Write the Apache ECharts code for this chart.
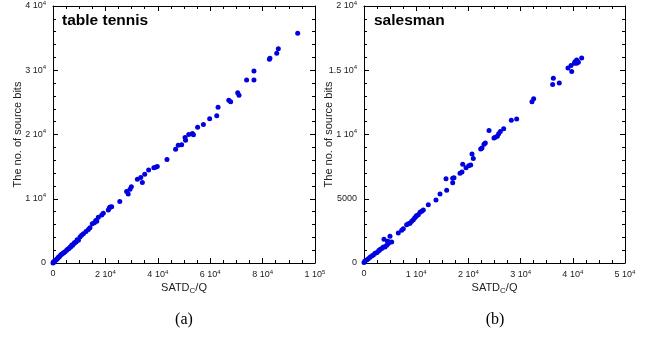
<!DOCTYPE html>
<html><head><meta charset="utf-8">
<script src="https://cdn.jsdelivr.net/npm/echarts@6/dist/echarts.min.js"></script>
<style>html,body{margin:0;padding:0;background:#fff}#c{width:647px;height:339px}</style>
</head><body><div id="c"></div>
<script>
// ---- data: table tennis (a) ----
const ttX = [93400,86000,85400,82800,82600,76700,76700,73900,70500,71000,67100,67800,63000,62500,59800,57400,55200,53200,53600,51800,50400,50600,49100,47800,46800,43500,39800,39100,38500,36500,35000,33500,34100,32200,29900,29400,28100,28700,25500,22400,21500,21100,21800,19200,18600,17300,16700,15800,15000,16300,14100,13500,12600,11600,10900,10300,9700,9200,8800,8300,8000,7500,7200,6800,6500,6100,5600,5200,4600,4200,3700,3300,2900,2500,2200,2000,1700,1400,1000,760,500,300,130,0];
const ttY = [35740,33340,32660,31850,31700,29900,28500,28500,26500,26100,25330,25080,24260,22920,22460,21540,21120,20150,19950,20000,19540,19120,18410,18310,17690,16110,15030,14920,14820,14460,13800,13290,12510,13030,11850,11490,11120,10720,9590,8770,8570,8260,8700,7740,7490,7130,6510,6260,6100,6620,5490,5230,4920,4560,4310,4050,3540,3600,3280,3200,3030,2770,2800,2510,2450,2260,2150,2000,1740,1650,1490,1350,1230,1000,950,870,700,560,450,350,250,100,150,0];
// ---- data: salesman (b) ----
const smX = [41700,40750,40420,41060,40750,40300,39660,39080,39790,36270,36140,37410,32500,32180,29250,28220,26760,26120,25800,25540,25150,24900,23950,23240,22990,22600,22350,20690,20940,20440,20060,19540,18910,18770,18390,17240,16990,16990,15710,15840,14560,13790,12320,11360,11050,10730,10400,10100,9960,9700,9450,9130,8810,8490,8170,7530,7220,6570,4980,3830,5300,4850,4660,4500,4350,4020,3700,3390,3070,2900,2740,2430,2110,1790,1470,1150,830,520,190,0];
const smY = [15950,15790,15670,15620,15540,15540,15360,15180,14900,14380,13900,14000,12790,12540,11210,11100,10440,10230,10050,9870,9790,9720,10310,9330,9250,8950,8870,8480,8130,7620,7560,7410,7690,7080,6980,6640,6590,6250,6560,5670,5360,4900,4540,4130,4020,3950,3750,3700,3620,3500,3360,3250,3100,3050,2980,2670,2540,2330,2080,1850,1640,1640,1510,1700,1380,1250,1250,1130,1050,1000,920,790,750,620,540,440,330,230,150,30];
const ttXTicks = {0:'0',20000:'2 10|4',40000:'4 10|4',60000:'6 10|4',80000:'8 10|4',100000:'1 10|5'};
const ttYTicks = {0:'0',10000:'1 10|4',20000:'2 10|4',30000:'3 10|4',40000:'4 10|4'};
const smXTicks = {0:'0',10000:'1 10|4',20000:'2 10|4',30000:'3 10|4',40000:'4 10|4',50000:'5 10|4'};
const smYTicks = {0:'0',5000:'5000',10000:'1 10|4',15000:'1.5 10|4',20000:'2 10|4'};

function fmt(map){ return function(v){ const s = map[v]; if(s===undefined) return ''; const p = s.split('|'); return p.length>1 ? '{a|'+p[0]+'}{s|'+p[1]+'}' : '{a|'+p[0]+'}'; }; }
const labelStyle = {fontFamily:'Liberation Sans, Arial', color:'#222', rich:{a:{fontSize:9,fontFamily:'Liberation Sans',color:'#222'}, s:{fontSize:6,fontFamily:'Liberation Sans',color:'#222',padding:[0,0,6,0]}}};
const axLine = {show:true, onZero:false, lineStyle:{color:'#000', width:1}};
const tick = {show:true, inside:true, length:5, lineStyle:{color:'#000'}};
const mtick = {show:true, length:3, lineStyle:{color:'#000'}};
function xAx(grid, max, interval, split, map, pos, lbl){
  return {type:'value', gridIndex:grid, min:0, max:max, interval:interval, position:pos,
    axisLine:axLine, axisTick:tick, minorTick:Object.assign({splitNumber:split}, mtick), splitLine:{show:false},
    axisLabel: lbl ? Object.assign({formatter:fmt(map), margin:6, showMaxLabel:true, showMinLabel:true}, labelStyle) : {show:false},
    name: lbl ? '{a|SATD}{s|C}{a|/Q}' : '', nameLocation:'middle', nameGap:17, nameMoveOverlap:false,
    nameTextStyle:{rich:{a:{fontSize:11,fontFamily:'Liberation Sans',color:'#222'}, s:{fontSize:8,fontFamily:'Liberation Sans',color:'#222',padding:[7,0,0,0]}}}};
}
function yAx(grid, max, interval, split, map, pos, lbl){
  return {type:'value', gridIndex:grid, min:0, max:max, interval:interval, position:pos,
    axisLine:axLine, axisTick:tick, minorTick:Object.assign({splitNumber:split}, mtick), splitLine:{show:false},
    axisLabel: lbl ? Object.assign({formatter:fmt(map), margin:7, showMaxLabel:true}, labelStyle) : {show:false},
    name: lbl ? 'The no. of source bits' : '', nameLocation:'middle', nameGap:30, nameRotate:90, nameMoveOverlap:false,
    nameTextStyle:{fontSize:11, fontFamily:'Liberation Sans', color:'#222'}};
}
const ttData = ttX.map((x,i)=>[x, ttY[i]]);
const smData = smX.map((x,i)=>[x, smY[i]]);
const chart = echarts.init(document.getElementById('c'), null, {renderer:'canvas'});
const dot = {color:'#0000e0', opacity:1};
chart.setOption({
  animation:false,
  grid:[{left:53, right:332, top:3, bottom:76}, {left:364, right:22, top:3, bottom:76}],
  xAxis:[xAx(0,100000,20000,4,ttXTicks,'bottom',true), xAx(0,100000,20000,4,ttXTicks,'top',false),
         xAx(1,50000,10000,4,smXTicks,'bottom',true), xAx(1,50000,10000,4,smXTicks,'top',false)],
  yAxis:[yAx(0,40000,10000,5,ttYTicks,'left',true), yAx(0,40000,10000,5,ttYTicks,'right',false),
         yAx(1,20000,5000,5,smYTicks,'left',true), yAx(1,20000,5000,5,smYTicks,'right',false)],
  series:[
    {type:'scatter', xAxisIndex:0, yAxisIndex:0, data:ttData, symbolSize:5, itemStyle:dot},
    {type:'scatter', xAxisIndex:2, yAxisIndex:2, data:smData, symbolSize:5, itemStyle:dot}
  ],
  graphic:[
    {type:'text', left:62, top:13, style:{text:'table tennis', font:'bold 15.5px Liberation Sans', fill:'#000'}},
    {type:'text', left:374, top:13, style:{text:'salesman', font:'bold 15.5px Liberation Sans', fill:'#000'}},
    {type:'text', x:184, y:320, style:{text:'(a)', font:'16px Liberation Serif', fill:'#000', align:'center', verticalAlign:'middle'}},
    {type:'text', x:495, y:320, style:{text:'(b)', font:'16px Liberation Serif', fill:'#000', align:'center', verticalAlign:'middle'}}
  ]
});
</script></body></html>
